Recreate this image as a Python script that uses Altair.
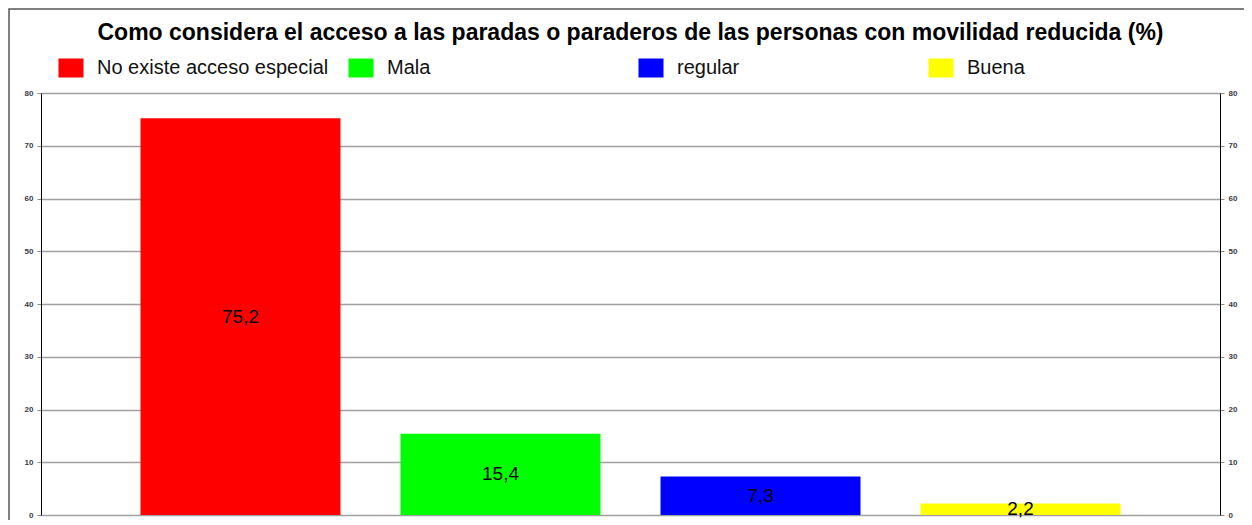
import altair as alt
import pandas as pd

categories = ["No existe acceso especial", "Mala", "regular", "Buena"]
values = [75.2, 15.4, 7.3, 2.2]
colors = ["#ff0000", "#00ff00", "#0000ff", "#ffff00"]
y_ticks = [0, 10, 20, 30, 40, 50, 60, 70, 80]
title_text = "Como considera el acceso a las paradas o paraderos de las personas con movilidad reducida (%)"

df = pd.DataFrame({
    "cat": categories,
    "value": values,
    "label": [f"{v:.1f}".replace(".", ",") for v in values],
})

FONT = "Liberation Sans"
W, H = 1179, 422

x_enc = alt.X("cat:N", sort=categories, axis=None,
              scale=alt.Scale(paddingInner=0.2308, paddingOuter=0.3827))

y_left = alt.Y("value:Q", scale=alt.Scale(domain=[0, 80], nice=False),
               axis=alt.Axis(values=y_ticks, title=None, orient="left", grid=True,
                             gridColor="#a0a0a0", gridWidth=1.5, domainColor="#000000",
                             domainWidth=1, tickColor="#888888", tickSize=4,
                             labelPadding=4, labelFontSize=8, labelFontWeight="bold",
                             labelColor="#3a3a44", labelFont=FONT))

bars = alt.Chart(df).mark_bar().encode(
    x=x_enc,
    y=y_left,
    color=alt.Color("cat:N", sort=categories,
                    scale=alt.Scale(domain=categories, range=colors),
                    legend=alt.Legend(
                        title=None, orient="none", legendX=20, legendY=-35,
                        direction="horizontal", columns=4, gridAlign="all",
                        columnPadding=19,
                        symbolType="M-1.316,-1L1.316,-1L1.316,1L-1.316,1Z",
                        symbolSize=361, symbolStrokeWidth=0, symbolOpacity=1,
                        labelFontSize=20, labelFont=FONT, labelColor="#111111",
                        labelOffset=16, labelLimit=400)),
)

text = alt.Chart(df).transform_calculate(mid="datum.value / 2").mark_text(
    fontSize=19, font=FONT, color="#000000", baseline="middle"
).encode(
    x=x_enc,
    y=alt.Y("mid:Q", scale=alt.Scale(domain=[0, 80], nice=False)),
    text="label:N",
)

right_axis = alt.Chart(df).mark_bar(opacity=0).encode(
    x=x_enc,
    y=alt.Y("value:Q", scale=alt.Scale(domain=[0, 80], nice=False),
            axis=alt.Axis(values=y_ticks, title=None, orient="right", grid=False,
                          domainColor="#000000", domainWidth=1, tickColor="#888888",
                          tickSize=4, labelPadding=4, labelFontSize=8,
                          labelFontWeight="bold", labelColor="#3a3a44", labelFont=FONT)),
)

frame = alt.Chart(pd.DataFrame({"f": [0]})).mark_rect(
    filled=False, stroke="#555555", strokeWidth=1.5
).encode(x=alt.value(-32), x2=alt.value(1300), y=alt.value(-84), y2=alt.value(700))

chart = alt.layer(alt.layer(bars, text), right_axis, frame).resolve_scale(
    y="independent"
).properties(
    width=W, height=H,
    title=alt.TitleParams(title_text, fontSize=23, font=FONT, fontWeight="bold",
                          color="#000000", anchor="middle", offset=0, dy=37),
    autosize=alt.AutoSizeParams(type="none"),
    padding={"left": 33, "top": 85, "right": 24, "bottom": 5},
).configure_view(stroke=None).configure(background="#ffffff")

chart.save("out.html", embed_options={"renderer": "svg", "actions": False})
